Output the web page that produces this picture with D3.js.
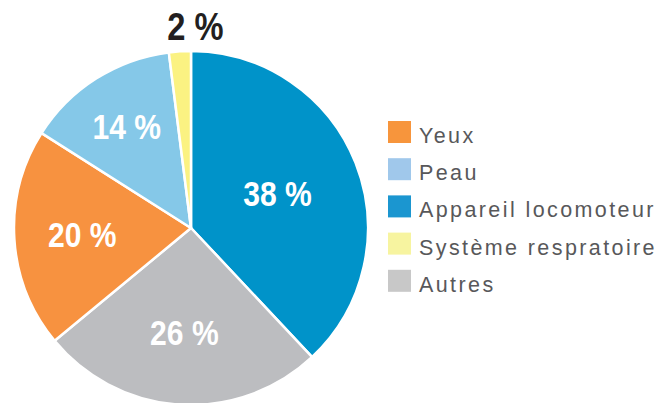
<!DOCTYPE html>
<meta charset="utf-8">
<script src="https://d3js.org/d3.v7.min.js"></script>
<style>
  body { margin: 0; background: #fff; }
</style>
<div id="my_dataviz"></div>
<script>

    // data, in pie order (clockwise from 12 o'clock)
    var categories = ["Appareil locomoteur", "Autres", "Yeux", "Peau", "Système respratoire"];
    var values = [38, 26, 20, 14, 2];
    var sliceColors = ["#0093c9", "#bcbdc0", "#f79240", "#85c8e8", "#fbf282"];

    // legend order and swatch colours
    var legendOrder = ["Yeux", "Peau", "Appareil locomoteur", "Système respratoire", "Autres"];
    var legendColors = ["#f7953c", "#a0c8eb", "#1b96d0", "#f7f4a0", "#c8c8c8"];

    var width = 661, height = 403;
    var cx = 191, cy = 228, radius = 177;
    // distance of each value label from the centre
    var labelR = [93, 105, 109, 120, 0];

    var svg = d3.select("#my_dataviz")
        .append("svg")
        .attr("width", width)
        .attr("height", height);

    var g = svg.append("g")
        .attr("transform", "translate(" + cx + "," + cy + ")");

    var pie = d3.pie().sort(null).value(function (d) { return d; });
    var arcs = pie(values);

    var arc = d3.arc().innerRadius(0).outerRadius(radius);

    g.selectAll("path")
        .data(arcs)
        .enter()
        .append("path")
        .attr("d", arc)
        .attr("fill", function (d, i) { return sliceColors[i]; })
        .attr("stroke", "#fff")
        .attr("stroke-width", 2.5)
        .attr("stroke-linejoin", "round");

    // condensed bold look: Liberation Sans Bold squeezed horizontally
    var labelFont = "'Liberation Sans', Arial, sans-serif";

    // labels inside the slices
    g.selectAll("g.val")
        .data(arcs.filter(function (d) { return d.value > 5; }))
        .enter()
        .append("g")
        .attr("class", "val")
        .attr("transform", function (d) {
            var a = (d.startAngle + d.endAngle) / 2;
            var r = labelR[d.index];
            return "translate(" + (Math.sin(a) * r) + "," + (-Math.cos(a) * r) + ")";
        })
        .append("text")
        .attr("transform", "scale(0.86,1)")
        .attr("text-anchor", "middle")
        .attr("dy", "0.36em")
        .attr("fill", "#fff")
        .style("font-family", labelFont)
        .style("font-weight", "bold")
        .style("font-size", "35px")
        .text(function (d) { return d.value + " %"; });

    // small slice label above the pie
    var small = arcs[4];
    var aSmall = (small.startAngle + small.endAngle) / 2;
    svg.append("g")
        .attr("transform", "translate(" + (cx + Math.sin(aSmall) * (radius + 25) + 17) + ",40)")
        .append("text")
        .attr("transform", "scale(0.86,1)")
        .attr("text-anchor", "middle")
        .attr("fill", "#231f20")
        .style("font-family", labelFont)
        .style("font-weight", "bold")
        .style("font-size", "38px")
        .text(small.value + " %");

    // legend
    var legend = svg.append("g")
        .attr("transform", "translate(388,121)");

    var rows = legend.selectAll("g")
        .data(legendOrder)
        .enter()
        .append("g")
        .attr("transform", function (d, i) { return "translate(0," + (i * 37.2) + ")"; });

    rows.append("rect")
        .attr("width", 23)
        .attr("height", 22)
        .attr("fill", function (d, i) { return legendColors[i]; });

    rows.append("text")
        .attr("x", 31)
        .attr("y", 22)
        .attr("fill", "#58585a")
        .style("font-family", "'Liberation Sans', Arial, sans-serif")
        .style("font-size", "21.5px")
        .style("letter-spacing", "2.4px")
        .text(function (d) { return d; });

</script>
